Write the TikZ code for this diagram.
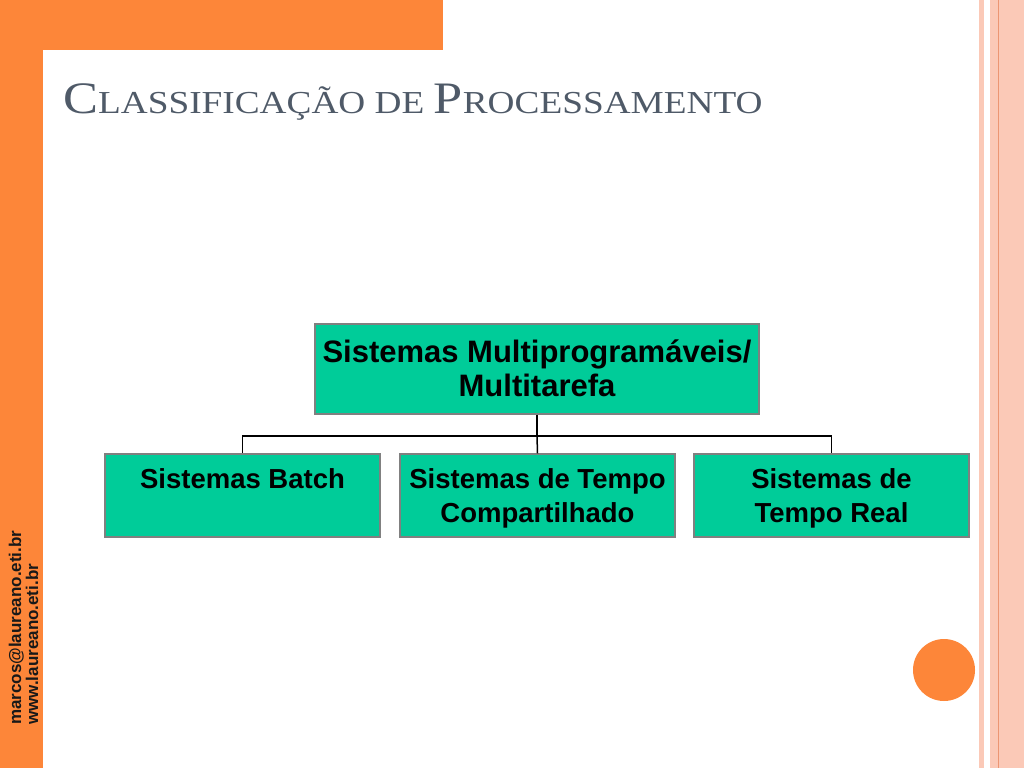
\documentclass[tikz,border=0pt]{standalone}
\usepackage{fontspec}
\setmainfont{Liberation Sans}
\newfontfamily\titlefont{Liberation Serif}
\usepackage{tikz}
\definecolor{slideorange}{RGB}{253,134,57}
\definecolor{slidepink}{RGB}{251,201,183}
\definecolor{slideline}{RGB}{236,150,115}
\definecolor{boxteal}{RGB}{0,204,153}
\definecolor{titlegray}{RGB}{79,90,104}
\newcommand{\tbig}[1]{{\fontsize{45}{50}\selectfont #1}}
\newcommand{\tsmall}[1]{{\fontsize{32}{36}\selectfont #1}}
\tikzstyle{box}=[draw=gray, line width=1.2pt, fill=boxteal, align=center, inner sep=0pt, font=\bfseries]
\tikzstyle{topbox}=[box, minimum width=444pt, minimum height=90pt, text height=72pt, text depth=18pt, font=\bfseries\fontsize{31}{34}\selectfont]
\tikzstyle{subbox}=[box, minimum width=275pt, minimum height=83pt, text height=68pt, text depth=15pt, font=\bfseries\fontsize{27.5}{34}\selectfont]
\tikzstyle{onerow}=[text height=34pt, text depth=49pt]
\tikzstyle{link}=[draw=black, line width=1.5pt]
\tikzstyle{contact}=[rotate=90, anchor=base west, inner sep=0pt, text=black!90, font=\bfseries\fontsize{17}{18}\selectfont]

\begin{document}
\begin{tikzpicture}[x=1pt, y=-1pt]
	\useasboundingbox (0,0) rectangle (1024,768);
	\begin{scope}
		\fill[white] (0,0) rectangle (1024,768);
		\fill[slideorange] (0,0) rectangle (43,768);
		\fill[slideorange] (43,0) rectangle (443,50);
		\fill[slidepink] (979,0) rectangle (983.5,768);
		\fill[slidepink] (990,0) rectangle (1024,768);
		\draw[slideline, line width=1pt] (998.5,0) -- (998.5,768);
	\end{scope}
	\begin{scope}
		\node (title) at (63,113)[anchor=base west, inner sep=0pt, text=titlegray, font=\titlefont]
			{\scalebox{1.165}[1]{\tbig{C}\tsmall{LASSIFICAÇÃO DE }\tbig{P}\tsmall{ROCESSAMENTO}}};
		\node (multi) at (537,369)[topbox] {Sistemas Multiprogramáveis/\\Multitarefa};
		\node (batch) at (242.5,495.5)[subbox, onerow] {Sistemas Batch};
		\node (shared) at (537.5,495.5)[subbox] {Sistemas de Tempo\\Compartilhado};
		\node (real) at (831.5,495.5)[subbox] {Sistemas de\\Tempo Real};
		\coordinate (fork) at (537,436);
		\node (dot) at (944,670)[circle, fill=slideorange, minimum size=62pt, inner sep=0pt] {};
		\node (mail) at (21,725)[contact] {marcos@laureano.eti.br};
		\node (web) at (38,725)[contact] {www.laureano.eti.br};
	\end{scope}
	\begin{scope}
		\path [link] (multi.south) -- (fork);
		\path [link] (fork) -| (batch.north);
		\path [link] (fork) -- (shared.north);
		\path [link] (fork) -| (real.north);
	\end{scope}
\end{tikzpicture}
\end{document}
